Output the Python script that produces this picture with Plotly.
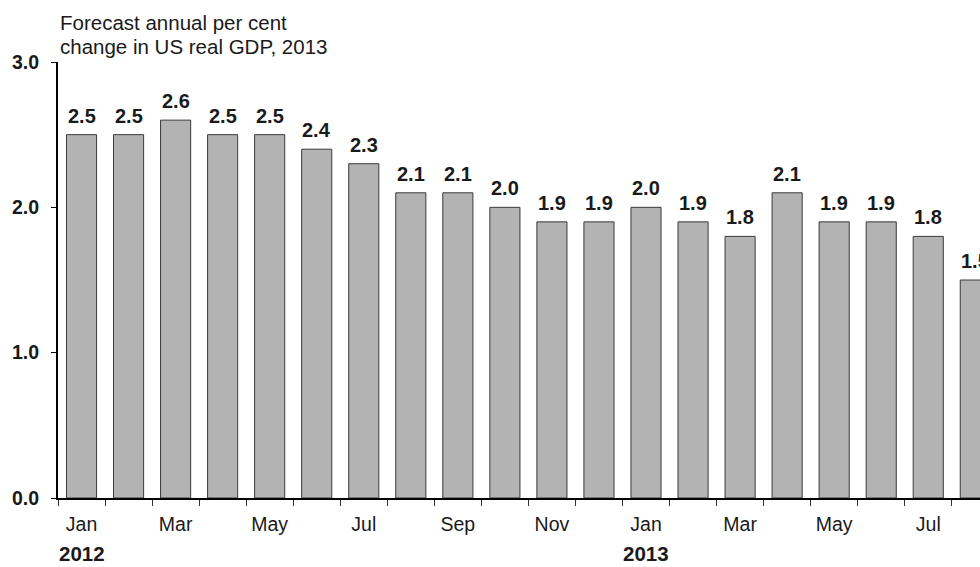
import plotly.graph_objects as go

# Monthly forecasts of US real GDP growth for 2013, Jan 2012 - Aug 2013
months = ["Jan", "Feb", "Mar", "Apr", "May", "Jun", "Jul", "Aug", "Sep", "Oct",
          "Nov", "Dec", "Jan", "Feb", "Mar", "Apr", "May", "Jun", "Jul", "Aug"]
forecast = [2.5, 2.5, 2.6, 2.5, 2.5, 2.4, 2.3, 2.1, 2.1, 2.0,
            1.9, 1.9, 2.0, 1.9, 1.8, 2.1, 1.9, 1.9, 1.8, 1.5]
years = ["2012", "2013"]
year_start = [0, 12]
y_ticks = [0.0, 1.0, 2.0, 3.0]
title_lines = ["Forecast annual per cent", "change in US real GDP, 2013"]

x = list(range(len(forecast)))
font_family = "Liberation Sans, Arial, sans-serif"
ink = "#1a1a1a"

fig = go.Figure(
    go.Bar(
        x=x,
        y=forecast,
        marker=dict(color="#b3b3b3", line=dict(color="#3a3a3a", width=1)),
        hoverinfo="skip",
    )
)

label_idx = x[::2]
fig.update_layout(
    width=980,
    height=567,
    margin=dict(l=58, r=0, t=62, b=69),
    paper_bgcolor="white",
    plot_bgcolor="white",
    bargap=0.36,
    showlegend=False,
    font=dict(family=font_family, color=ink),
    xaxis=dict(
        range=[-0.5, 19.1],
        tickmode="array",
        tickvals=label_idx,
        ticktext=[months[i] for i in label_idx],
        ticks="",
        tickfont=dict(size=19.5, color=ink),
        ticklabelstandoff=8,
        showline=True,
        linecolor="black",
        linewidth=2,
        showgrid=False,
        zeroline=False,
        minor=dict(tickmode="linear", tick0=-0.5, dtick=1, ticks="outside",
                   ticklen=6, tickwidth=1, tickcolor="#333333", showgrid=False),
    ),
    yaxis=dict(
        range=[0, 3.0],
        tickmode="array",
        tickvals=y_ticks,
        ticktext=[f"{v:.1f}" for v in y_ticks],
        ticks="outside",
        ticklen=5,
        tickwidth=1,
        tickcolor="black",
        tickfont=dict(size=19.5, color=ink, weight="bold"),
        ticklabelstandoff=8,
        showline=True,
        linecolor="black",
        linewidth=2,
        showgrid=False,
        zeroline=False,
    ),
)

# value labels above each bar
for xi, v in zip(x, forecast):
    fig.add_annotation(
        text=f"{v:.1f}", x=xi, y=v, xref="x", yref="y",
        xanchor="center", yanchor="bottom", yshift=6,
        showarrow=False,
        font=dict(family=font_family, size=20, color=ink, weight="bold"),
    )

# two-line heading above the plot
for line, shift in zip(title_lines, [40, 15.5]):
    fig.add_annotation(
        text=line, xref="paper", yref="paper", x=0, y=1,
        xanchor="left", yanchor="middle", yshift=shift, xshift=0,
        showarrow=False,
        font=dict(family=font_family, size=20.5, color=ink),
    )

for yr, pos in zip(years, year_start):
    fig.add_annotation(
        text=yr, xref="x", yref="paper", x=pos, y=0,
        xanchor="center", yanchor="middle", yshift=-55, xshift=0,
        showarrow=False,
        font=dict(family=font_family, size=20.5, color=ink, weight="bold"),
    )

fig.write_html("out.html")
